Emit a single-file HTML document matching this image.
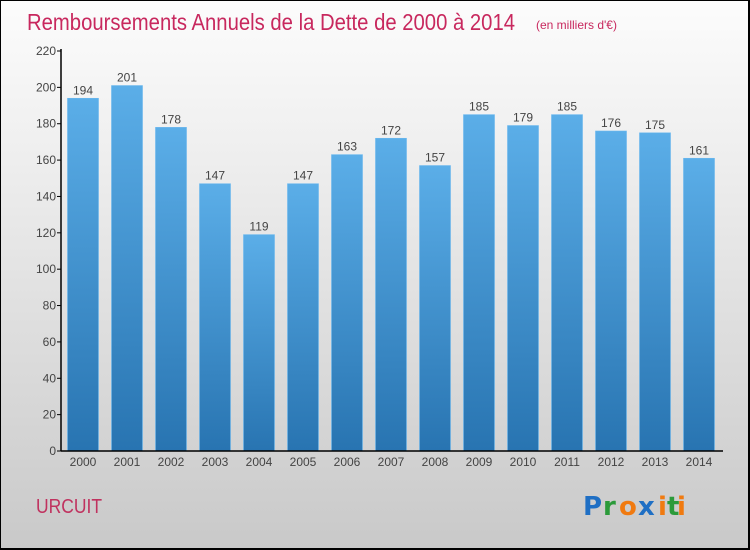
<!DOCTYPE html>
<html><head><meta charset="utf-8"><style>
body{margin:0;}
#c{width:750px;height:550px;position:relative;box-sizing:border-box;border:1px solid #000;border-width:1px 2px 2px 1px;background:linear-gradient(#fcfcfc,#f0f0f0 25%,#c9c9c9);font-family:"Liberation Sans",sans-serif;overflow:hidden}
</style></head><body>
<div id="c">
<svg width="750" height="550" style="position:absolute;left:-1px;top:-1px">
<defs><linearGradient id="g" x1="0" y1="0" x2="0" y2="1"><stop offset="0" stop-color="#5baee8"/><stop offset="1" stop-color="#2874b1"/></linearGradient></defs>
<text x="27" y="30" font-size="23" fill="#c8285e" textLength="488" lengthAdjust="spacingAndGlyphs">Remboursements Annuels de la Dette de 2000 à 2014</text>
<text x="536" y="29" font-size="12" fill="#c8285e">(en milliers d'€)</text>
<g id="plot"></g>
<text x="36" y="513" font-size="20" fill="#c0325f" textLength="66" lengthAdjust="spacingAndGlyphs">URCUIT</text>
<g font-size="26" font-weight="bold" font-family="'DejaVu Sans',sans-serif">
<text x="583" y="515" fill="#1f6fc4">P</text><text x="603" y="515" fill="#2b9a3a">r</text><text x="619" y="515" fill="#f07a10">o</text><text x="638" y="515" fill="#1f6fc4">x</text><text x="658" y="515" fill="#f07a10">i</text><text x="667" y="515" fill="#2b9a3a">t</text><text x="677" y="515" fill="#f07a10">i</text>
</g>
</svg>
</div>
<script>
const years=["2000","2001","2002","2003","2004","2005","2006","2007","2008","2009","2010","2011","2012","2013","2014"];
const values=[194,201,178,147,119,147,163,172,157,185,179,185,176,175,161];
const yTicks=[0,20,40,60,80,100,120,140,160,180,200,220];
const NS="http://www.w3.org/2000/svg";
const g=document.getElementById('plot');
const y0=451,yTop=51,yMax=220,xL=61,step=44,bw=31;
const ys=v=>y0-(v/yMax)*(y0-yTop);
const xs=i=>83+i*step;
function mk(t,a,txt){const e=document.createElementNS(NS,t);for(const k in a)e.setAttribute(k,a[k]);if(txt!==undefined)e.textContent=txt;g.appendChild(e);return e;}
yTicks.forEach(v=>{
 const l=mk('line',{x1:xL-4,x2:xL,y1:ys(v),y2:ys(v),stroke:'#000'});
 
 
 const t=mk('text',{x:xL-5,y:ys(v)+4,'font-size':12,fill:'#444','text-anchor':'end'},v);
 
 
});
values.forEach((v,i)=>{
 const r=mk('rect',{x:xs(i)-bw/2,y:ys(v),width:bw,height:y0-ys(v),fill:'url(#g)',stroke:'#6bb8ee','stroke-width':0.6});
 
 
 const t=mk('text',{x:xs(i),y:ys(v)-4,'font-size':12,fill:'#444','text-anchor':'middle'},v);
 
 
 const xl=mk('text',{x:xs(i),y:466,'font-size':12,fill:'#444','text-anchor':'middle'},years[i]);
 
 
});
const ya=mk('line',{x1:xL,x2:xL,y1:yTop-2,y2:y0,stroke:'#000','stroke-width':1.5});


const xa=mk('line',{x1:xL,x2:723,y1:y0,y2:y0,stroke:'#000','stroke-width':1.5});


</script>
</body></html>
